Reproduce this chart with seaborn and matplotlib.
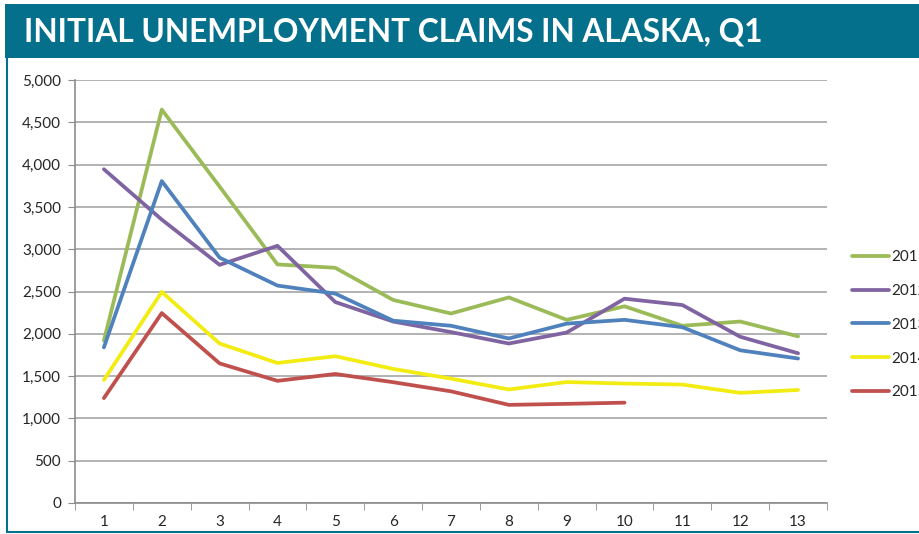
import seaborn as sns
import matplotlib.pyplot as plt
import pandas as pd
from matplotlib.patches import Rectangle
from matplotlib.lines import Line2D
from matplotlib.ticker import FuncFormatter, FixedLocator

weeks = list(range(1, 14))
claims_2011 = [1920, 4650, 3740, 2820, 2780, 2400, 2240, 2430, 2165, 2325, 2095, 2145, 1970]
claims_2012 = [3945, 3350, 2815, 3040, 2375, 2145, 2020, 1885, 2015, 2415, 2340, 1965, 1770]
claims_2013 = [1840, 3805, 2900, 2570, 2475, 2155, 2095, 1945, 2120, 2165, 2078, 1805, 1708]
claims_2014 = [1455, 2495, 1885, 1655, 1735, 1585, 1470, 1342, 1430, 1412, 1400, 1302, 1336]
claims_2015 = [1240, 2245, 1650, 1444, 1525, 1428, 1320, 1160, 1172, 1186]
years = ["2011", "2012", "2013", "2014", "2015"]
colors = ["#9bbb59", "#8064a2", "#4f81bd", "#f2ec12", "#c0504d"]

rows = []
for yr, vals in zip(years, [claims_2011, claims_2012, claims_2013, claims_2014, claims_2015]):
    for w, v in zip(weeks, vals):
        rows.append({"week": w, "claims": v, "year": yr})
df = pd.DataFrame(rows)

sns.set_style("white")
plt.rcParams['font.family'] = ['Lato', 'DejaVu Sans']

fig = plt.figure(figsize=(9.2, 5.34), dpi=100)
teal = "#04708c"
# title banner and frame
fig.patches.append(Rectangle((5/920, 1-58/534), 1, 54/534, transform=fig.transFigure,
                             facecolor=teal, edgecolor="none", zorder=0))
fig.lines.append(Line2D([7/920, 7/920], [2/534, 1-58/534], transform=fig.transFigure,
                        color=teal, lw=1.5))
fig.lines.append(Line2D([7/920, 1], [2/534, 2/534], transform=fig.transFigure,
                        color=teal, lw=1.5))
fig.text(24/920, 1-32/534, "INITIAL UNEMPLOYMENT CLAIMS IN ALASKA, Q1", color="white",
         fontsize=22.8, fontweight="bold", va="center", ha="left")

ax = fig.add_axes([75/920, 1-503/534, 752/920, 423/534])
sns.lineplot(data=df, x="week", y="claims", hue="year", palette=colors, linewidth=2.7,
             ax=ax, legend=False)

ax.set_xlim(0.5, 13.5)
ax.set_ylim(0, 5000)
ax.set_yticks(range(0, 5001, 500))
ax.yaxis.set_major_formatter(FuncFormatter(lambda v, p: f"{int(v):,}"))
ax.set_xticks(weeks)
ax.xaxis.set_minor_locator(FixedLocator([i + 0.5 for i in range(0, 14)]))
ax.tick_params(axis="x", which="major", length=0, pad=9, labelsize=11)
ax.tick_params(axis="x", which="minor", length=5, color="#8c8c8c", direction="out", bottom=True)
ax.tick_params(axis="y", length=5, color="#8c8c8c", direction="out", left=True, labelsize=11, pad=5)
ax.grid(axis="y", color="#a6a6a6", lw=1.2)
ax.set_axisbelow(True)
for s in ["top", "right"]:
    ax.spines[s].set_visible(False)
for s in ["left", "bottom"]:
    ax.spines[s].set_color("#8c8c8c")
    ax.spines[s].set_linewidth(1.2)
ax.set_xlabel("")
ax.set_ylabel("")

handles = [Line2D([], [], color=c, lw=2.7) for c in colors]
fig.legend(handles, years, loc="upper left", bbox_to_anchor=(852/920, 1-250/534),
           frameon=False, fontsize=11, handlelength=2.4, handletextpad=0.2,
           labelspacing=1.3, borderpad=0, borderaxespad=0)

fig.savefig("out.png", dpi=100)
